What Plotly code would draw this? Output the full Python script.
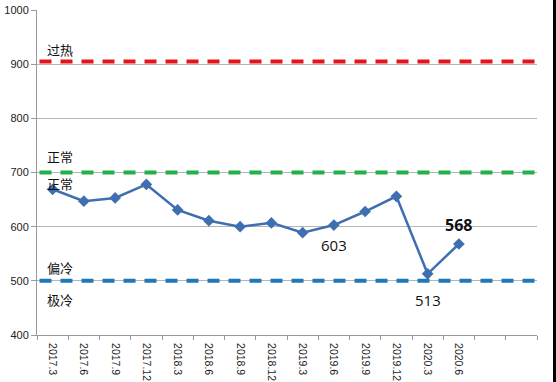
import plotly.graph_objects as go

categories = ["2017.3", "2017.6", "2017.9", "2017.12", "2018.3", "2018.6", "2018.9",
              "2018.12", "2019.3", "2019.6", "2019.9", "2019.12", "2020.3", "2020.6", " ", "  "]
values = [669, 647, 653, 678, 631, 611, 600, 607, 589, 603, 628, 656, 513, 568]

ref_levels = [905, 700, 500]
ref_colors = ["#E3141B", "#22B04B", "#1F77B8"]

zone_labels = ["过热", "正常", "正常", "偏冷", "极冷"]
zone_y = [928, 729, 679, 524, 465]

point_labels = [(9, "603", -20, False), (12, "513", -26, False), (13, "568", 19, True)]

fig = go.Figure()

for lvl, col in zip(ref_levels, ref_colors):
    fig.add_shape(type="line", xref="paper", yref="y", x0=0.005, x1=1.0, y0=lvl, y1=lvl,
                  line=dict(color=col, width=4, dash="12px,9px"), layer="above")

fig.add_trace(go.Scatter(
    x=categories[:len(values)], y=values, mode="lines+markers",
    line=dict(color="#3F6FB0", width=2.5),
    marker=dict(symbol="diamond", size=9, color="#3F6FB0"),
    hoverinfo="x+y", showlegend=False))

for txt, yv in zip(zone_labels, zone_y):
    fig.add_annotation(x=0.016, xref="paper", y=yv, yref="y", text=txt, showarrow=False,
                       xanchor="left", font=dict(family="Noto Sans CJK SC", size=13, color="#111"))

for idx, txt, ys, bold in point_labels:
    fig.add_annotation(x=idx, y=values[idx], xref="x", yref="y",
                       text=("<b>%s</b>" % txt) if bold else txt, showarrow=False, yshift=ys,
                       font=dict(family="Open Sans", size=15 if not bold else 16, color="#111"))

# right image border
fig.add_shape(type="line", xref="paper", yref="paper", x0=1.035, x1=1.035, y0=-0.2, y1=1.1,
              line=dict(color="#000", width=3))

fig.update_layout(
    width=556, height=382,
    margin=dict(l=37, r=19, t=10, b=47),
    paper_bgcolor="white", plot_bgcolor="white",
    xaxis=dict(type="category", categoryorder="array", categoryarray=categories,
               range=[-0.5, len(categories) - 0.5], tickson="boundaries",
               tickangle=90, ticks="outside", ticklen=4, tickcolor="#999", automargin=False,
               ticklabelstandoff=5,
               showline=True, linecolor="#999", linewidth=1, showgrid=False,
               tickfont=dict(family="Liberation Sans", size=10.5, color="#222")),
    yaxis=dict(range=[400, 1000], dtick=100, ticks="outside", ticklen=5, tickcolor="#999",
               showline=True, linecolor="#999", linewidth=1, automargin=False,
               showgrid=True, gridcolor="#B5B5B5", gridwidth=1, zeroline=False,
               tickfont=dict(family="Liberation Sans", size=11, color="#222")),
)

# remove the default 8px page margin so the figure fills the window exactly
fig.write_html("out.html", config={"displayModeBar": False},
               post_script="document.body.style.margin='0px';")
